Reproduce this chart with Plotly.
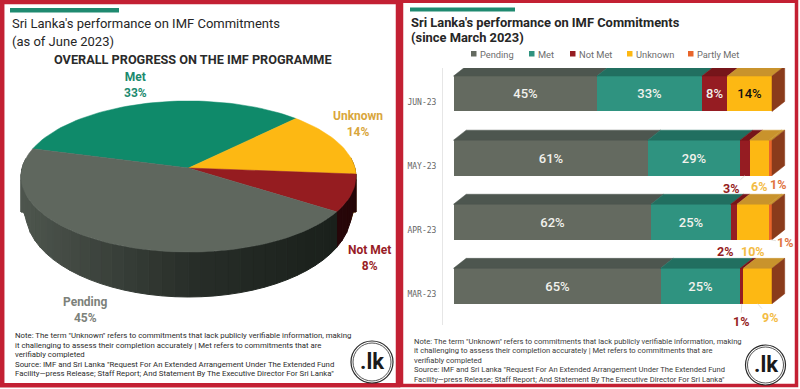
import math
import plotly.graph_objects as go

# ---------- data ----------
pie_labels = ["Met", "Unknown", "Not Met", "Pending"]
pie_values = [33, 14, 8, 45]
months = ["MAR-23", "APR-23", "MAY-23", "JUN-23"]
series_names = ["Pending", "Met", "Not Met", "Unknown", "Partly Met"]
pending = [65, 62, 61, 45]
met = [25, 25, 29, 33]
not_met = [1, 2, 3, 8]
unknown = [9, 10, 6, 14]
partly_met = [0, 1, 1, 0]
note_lines = [
    'Note: The term "Unknown" refers to commitments that lack publicly verifiable information, making',
    'it challenging to assess their completion accurately | Met refers to commitments that are',
    'verifiably completed',
    'Source: IMF and Sri Lanka "Request For An Extended Arrangement Under The Extended Fund',
    'Facility—press Release; Staff Report; And Statement By The Executive Director For Sri Lanka"',
]

# ---------- styles ----------
RED = "#C32033"
C_FRONT = {"Pending": "#646A60", "Met": "#2F9380", "Not Met": "#951C22", "Unknown": "#FDB813", "Partly Met": "#E8652B"}
C_TOP = {"Pending": "#4D564F", "Met": "#216F60", "Not Met": "#76151A", "Unknown": "#C9932C", "Partly Met": "#C9932C"}
C_SIDE = "#8A3B1B"
C_PIE = {"Met": "#0F8A6A", "Unknown": "#FDB813", "Not Met": "#951C20", "Pending": "#5F675E"}
C_LABEL = {"Met": "#1B8A6E", "Unknown": "#D9A63C", "Not Met": "#981C26", "Pending": "#7C817A"}
C_SHADE_L = {"Pending": (78, 86, 78), "Not Met": (70, 10, 14), "Met": (10, 90, 70), "Unknown": (160, 110, 10)}
C_SHADE_M = {"Pending": (40, 46, 41), "Not Met": (70, 10, 14), "Met": (10, 90, 70), "Unknown": (160, 110, 10)}
C_SHADE_R = {"Pending": (24, 30, 25), "Not Met": (36, 6, 8), "Met": (10, 90, 70), "Unknown": (160, 110, 10)}
FONT = "Roboto"

fig = go.Figure()

# ---------- left: perspective pie, geometry derived from pie_values ----------
CX, CY, RX, RY, K = 188.5, 168.0, 166.4, 74.6, 0.1126
START_DEG = 45.8 + 118.8  # angle of Met's counter-clockwise edge
BOT_CX, BOT_CY, BOT_RX, BOT_RY = 188.5, 212.0, 163.0, 85.0


def top_pt(deg):
    t = math.radians(deg)
    w = 1 + K * math.sin(t)
    return CX + RX * math.cos(t) / w, CY - RY * math.sin(t) / w


def bottom_for(deg):
    x, y = top_pt(deg)
    u = max(-1.0, min(1.0, (x - BOT_CX) / BOT_RX))
    return x, BOT_CY + BOT_RY * math.sqrt(1 - u * u)


def mix(a, b, f):
    return tuple(int(round(a[i] + (b[i] - a[i]) * f)) for i in range(3))


total = sum(pie_values)
angle = START_DEG
spans = []
for name, v in zip(pie_labels, pie_values):
    a1 = angle - 360.0 * v / total
    spans.append((name, angle, a1))
    angle = a1

# visible rim
for name, a0, a1 in spans:
    n = max(2, int(abs(a1 - a0) / 4))
    for i in range(n):
        d0 = a0 + (a1 - a0) * i / n
        d1 = a0 + (a1 - a0) * (i + 1) / n
        if math.sin(math.radians((d0 + d1) / 2)) > 0.12:
            continue
        x0, y0 = top_pt(d0)
        x1, y1 = top_pt(d1)
        bx0, by0 = bottom_for(d0)
        bx1, by1 = bottom_for(d1)
        f = ((x0 + x1) / 2 - 21) / (356 - 21)
        col = mix(C_SHADE_L[name], C_SHADE_M[name], f / 0.5) if f < 0.5 else mix(C_SHADE_M[name], C_SHADE_R[name], (f - 0.5) / 0.5)
        c = "rgb(%d,%d,%d)" % col
        fig.add_trace(go.Scatter(x=[x0, x1, bx1, bx0, x0], y=[y0, y1, by1, by0, y0], mode="lines",
                                 fill="toself", fillcolor=c, line=dict(color=c, width=1),
                                 xaxis="x2", yaxis="y2", showlegend=False, hoverinfo="skip"))

# top face
for name, a0, a1 in spans:
    n = max(2, int(abs(a1 - a0) / 2))
    pts = [top_pt(a0 + (a1 - a0) * i / n) for i in range(n + 1)]
    xs = [CX] + [p[0] for p in pts] + [CX]
    ys = [CY] + [p[1] for p in pts] + [CY]
    fig.add_trace(go.Scatter(x=xs, y=ys, mode="lines", fill="toself", fillcolor=C_PIE[name],
                             line=dict(color=C_PIE[name], width=0.5), xaxis="x2", yaxis="y2",
                             showlegend=False, name=name))

# ---------- right: stacked bars ----------
BAR_H = 0.552
BAR_OFF = -0.152
series_vals = [pending, met, not_met, unknown, partly_met]
DX = 12.7 / 3.185   # depth in x units
DY = 10.0 / 64.1    # depth in y units
txt_colors = {"Pending": "#F1F1EC", "Met": "#F1F1EC", "Not Met": "#F1F1EC", "Unknown": "#111111"}
y_idx = list(range(len(months)))

# depth faces
for m_i, m in enumerate(months):
    cum = 0
    y_top = m_i + BAR_OFF + BAR_H
    for name, vals in zip(series_names, series_vals):
        v = vals[m_i]
        if v == 0:
            continue
        fig.add_trace(go.Scatter(x=[cum, cum + v, cum + v + DX, cum + DX, cum],
                                 y=[y_top, y_top, y_top + DY, y_top + DY, y_top],
                                 mode="lines", fill="toself", fillcolor=C_TOP[name],
                                 line=dict(color=C_TOP[name], width=0.5),
                                 showlegend=False, hoverinfo="skip"))
        cum += v
    y_bot = m_i + BAR_OFF
    fig.add_trace(go.Scatter(x=[cum, cum + DX, cum + DX, cum, cum],
                             y=[y_top, y_top + DY, y_bot + DY, y_bot, y_top],
                             mode="lines", fill="toself", fillcolor=C_SIDE,
                             line=dict(color=C_SIDE, width=0.5), showlegend=False, hoverinfo="skip"))

# labels placed outside the bar: (month index, series index, x offset, y offset, leader line)
small = [
    (2, 2, -14, 13, True), (2, 3, 0, 11, False), (2, 4, 8, 9, False),
    (1, 2, -9, 12, False), (1, 3, 0, 12, False), (1, 4, 15, 3, True),
    (0, 2, -1, 18, True), (0, 3, 12, 14, True),
]
outside = {(m_i, s_i) for m_i, s_i, *_ in small}

# front bars
for s_i, (name, vals) in enumerate(zip(series_names, series_vals)):
    texts = ["" if (m_i, s_i) in outside or v == 0 else f"{v}%" for m_i, v in enumerate(vals)]
    fig.add_trace(go.Bar(y=y_idx, x=vals, orientation="h", name=name, showlegend=False,
                         width=BAR_H, offset=BAR_OFF, marker=dict(color=C_FRONT[name], line=dict(width=0)),
                         text=texts, textposition="inside", insidetextanchor="middle", textangle=0,
                         constraintext="none",
                         textfont=dict(family=FONT, size=13, color=txt_colors.get(name, "#FFFFFF"), weight=500)))


def seg_mid(m_i, s_i):
    return sum(v[m_i] for v in series_vals[:s_i]) + series_vals[s_i][m_i] / 2


annos = []
for m_i, s_i, ax, ay, arrow in small:
    v = series_vals[s_i][m_i]
    nm = series_names[s_i]
    lab_col = {"Not Met": "#951C22", "Unknown": "#F3BC45", "Partly Met": "#E0733F"}[nm]
    bar_bottom = m_i + BAR_OFF
    annos.append(dict(x=seg_mid(m_i, s_i), y=bar_bottom, xref="x", yref="y", text=f"<b>{v}%</b>",
                      showarrow=True, arrowhead=0, arrowwidth=0.7,
                      arrowcolor="#D5D5D0" if arrow else "rgba(0,0,0,0)",
                      ax=ax, ay=ay, standoff=0, startstandoff=0,
                      font=dict(family=FONT, size=12.5, color=lab_col)))

# pie labels
pie_pos = {"Met": (135, 85), "Unknown": (358, 124), "Not Met": (369, 258), "Pending": (85, 310)}
for name, v in zip(pie_labels, pie_values):
    x, y = pie_pos[name]
    annos.append(dict(x=x, y=y, xref="x2", yref="y2", showarrow=False, align="center",
                      text=f"<b>{name}</b><br><b>{v}%</b>",
                      font=dict(family=FONT, size=12, color=C_LABEL[name])))


def ptext(x, y, text, size, color="#222222", family=FONT, xanchor="left", yanchor="middle", align="left"):
    annos.append(dict(x=x / 800, y=1 - y / 389, xref="paper", yref="paper", text=text, showarrow=False,
                      xanchor=xanchor, yanchor=yanchor, align=align, borderpad=0,
                      font=dict(family=family, size=size, color=color)))


# titles
ptext(11, 24, "Sri Lanka's performance on IMF Commitments", 13, "#262626")
ptext(11, 41, "(as of June 2023)", 13, "#262626")
ptext(193, 59.5, "<b>OVERALL PROGRESS ON THE IMF PROGRAMME</b>", 12.7, "#2a2a2a", xanchor="center")
ptext(410, 22, "<b>Sri Lanka's performance on IMF Commitments</b>", 12.9, "#262626")
ptext(410, 38, "<b>(since March 2023)</b>", 12.9, "#262626")

# notes
for i, line in enumerate(note_lines):
    ptext(13.5, 335.5 + i * 9.6, line, 7.8, "#2b2b2b")
    ptext(413, 341 + i * 9.6, line, 7.6, "#3a3a3a")

# logos
shapes = []
for cx, cy, r in [(372, 362, 21), (765.5, 365, 20)]:
    for rr, lw in [(r, 1.2), (r - 2, 0.8)]:
        shapes.append(dict(type="circle", xref="paper", yref="paper",
                           x0=(cx - rr) / 800, x1=(cx + rr) / 800,
                           y0=1 - (cy + rr) / 389, y1=1 - (cy - rr) / 389,
                           line=dict(color="#2a2a2a", width=lw), fillcolor="#FFFFFF"))
    ptext(cx, cy - 1, "<b>.lk</b>", 22, "#1a1a1a", xanchor="center")


# panels and accent bars
def prect(x0, y0, x1, y1, **kw):
    shapes.append(dict(type="rect", xref="paper", yref="paper", x0=x0 / 800, x1=x1 / 800,
                       y0=1 - y1 / 389, y1=1 - y0 / 389, layer="below", **kw))


prect(2.2, 2, 398, 385.3, line=dict(color=RED, width=4.5), fillcolor="#FFFFFF")
prect(401.5, 1.2, 796.5, 385.5, line=dict(color=RED, width=3.5), fillcolor="#FFFFFF")
prect(10, 8, 119, 12.5, line=dict(width=0), fillcolor="#1F8A70")
prect(410, 7.5, 515, 11.5, line=dict(width=0), fillcolor="#1F8A70")

# legend (key squares and real text placed to the reference's uneven spacing)
legend_x = [471, 529, 570, 627, 688]
for lx, nm in zip(legend_x, series_names):
    prect(lx, 51, lx + 5.5, 56.5, line=dict(width=0), fillcolor=C_FRONT[nm])
    ptext(lx + 8, 54, nm, 9.3, "#6d6d6d")

fig.update_layout(
    width=800, height=389, autosize=False,
    margin=dict(l=0, r=0, t=0, b=0), paper_bgcolor="#FFFFFF", plot_bgcolor="rgba(0,0,0,0)",
    barmode="stack", bargap=0, showlegend=False, hovermode=False,
    annotations=annos, shapes=shapes,
    xaxis=dict(domain=[443 / 800, 790 / 800], range=[-10.5 / 3.185, 336.5 / 3.185], visible=False, fixedrange=True),
    yaxis=dict(domain=[1 - 325 / 389, 1 - 68 / 389], range=[-0.484, 3.526],
               tickmode="array", tickvals=y_idx, ticktext=months, showgrid=False, zeroline=False,
               showline=True, linecolor="#E6E6E6", linewidth=1, ticks="", ticklabelstandoff=4,
               tickfont=dict(family="DejaVu Sans Mono", size=8, color="#666666"), fixedrange=True),
    xaxis2=dict(domain=[0, 0.5], range=[0, 400], visible=False, anchor="y2", fixedrange=True),
    yaxis2=dict(domain=[0, 1], range=[389, 0], visible=False, anchor="x2", fixedrange=True),
)

fig.write_html("out.html", config=dict(displayModeBar=False),
               post_script="document.body.style.margin='0';document.body.style.overflow='hidden';")
